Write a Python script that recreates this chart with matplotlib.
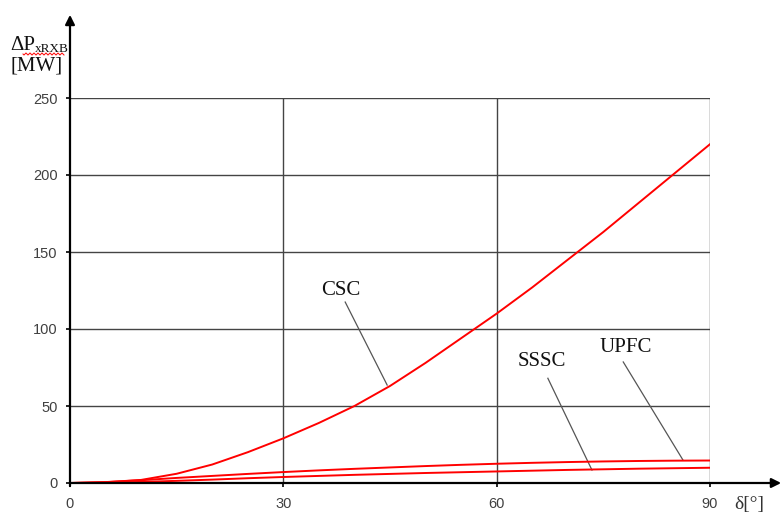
import numpy as np
import matplotlib
matplotlib.use("Agg")
import matplotlib.pyplot as plt

# Power-loss curves vs. transmission angle
delta = [0, 5, 10, 15, 20, 25, 30, 35, 40, 45, 50, 55, 60, 65, 70, 75, 80, 85, 90]
csc = [0, 0.5, 2, 6, 12, 20, 29, 39, 50, 63, 78, 94, 110, 127, 145, 163, 182, 201, 220]
upfc = [0, 0.6, 1.8, 3.3, 4.6, 5.9, 7.1, 8.2, 9.2, 10.1, 11.0, 11.8, 12.5, 13.1, 13.6, 14.0, 14.3, 14.5, 14.6]
sssc = [0, 0.2, 0.7, 1.4, 2.2, 3.1, 3.9, 4.6, 5.3, 5.9, 6.5, 7.0, 7.5, 8.0, 8.5, 8.9, 9.3, 9.6, 9.9]

xticks = [0, 30, 60, 90]
yticks = [0, 50, 100, 150, 200, 250]

serif = "Liberation Serif"
sans = "Liberation Sans"

W, H = 781, 513
fig = plt.figure(figsize=(W / 100, H / 100), dpi=100)
ax = fig.add_axes([70 / W, 30 / H, 640 / W, 385 / H])
ax.set_xlim(0, 90)
ax.set_ylim(0, 250)
for s in ax.spines.values():
    s.set_visible(False)

# grid
for yv in yticks[1:]:
    ax.plot([0, 90], [yv, yv], color="#444444", lw=1.0, zorder=1)
for xv in xticks[1:]:
    ax.plot([xv, xv], [0, 250], color="#444444", lw=1.0, zorder=1)

# curves
for ys in (csc, upfc, sssc):
    ax.plot(delta, ys, color="red", lw=1.4, zorder=3)

# axes with arrows
ax.annotate("", xy=(100, 0), xytext=(0, 0),
            arrowprops=dict(arrowstyle="-|>", color="black", lw=1.6,
                            mutation_scale=14, shrinkA=0, shrinkB=0),
            annotation_clip=False, zorder=4)
ax.annotate("", xy=(0, 304), xytext=(0, -2),
            arrowprops=dict(arrowstyle="-|>", color="black", lw=1.6,
                            mutation_scale=14, shrinkA=0, shrinkB=0),
            annotation_clip=False, zorder=4)

ax.set_xticks(xticks)
ax.set_yticks(yticks)
ax.tick_params(axis="both", direction="out", length=3, width=1.2, color="black",
               labelcolor="#404040", labelsize=10.5)
ax.tick_params(axis="x", pad=7)
ax.tick_params(axis="y", pad=6)
for lab in ax.get_xticklabels() + ax.get_yticklabels():
    lab.set_fontfamily(sans)

# curve labels with leader lines
labels = [("CSC", (38.1, 125), (38.7, 117.5), (44.6, 63.6)),
          ("SSSC", (66.4, 78.6), (67.2, 68), (73.4, 8.4)),
          ("UPFC", (78.2, 88.3), (77.8, 78.6), (86.2, 14.9))]
for txt, tpos, p0, p1 in labels:
    ax.text(tpos[0], tpos[1], txt, family=serif, fontsize=15, ha="center",
            va="center", color="#111111")
    ax.plot([p0[0], p1[0]], [p0[1], p1[1]], color="#555555", lw=0.9, zorder=2)

# axis titles
fig.text(10 / W, 1 - 50 / H, "ΔP", family=serif, fontsize=15,
         ha="left", va="baseline", color="#111111")
fig.text(35 / W, 1 - 52 / H, "xRXB", family=serif, fontsize=9.5,
         ha="left", va="baseline", color="#111111")
fig.text(10 / W, 1 - 70 / H, "[MW]", family=serif, fontsize=15,
         ha="left", va="baseline", color="#111111")
fig.text(749 / W, 1 - 505 / H, "δ[°]", family=serif, fontsize=14,
         ha="center", va="center", color="#333333")

# wavy underline beneath the subscript
wx = np.linspace(23, 64, 60)
wy = 54 + 1.0 * np.sin((wx - 23) * 2 * np.pi / 4.0)
fig.add_artist(plt.Line2D(wx / W, 1 - wy / H, color="red", lw=0.7,
                          transform=fig.transFigure))

fig.savefig("out.png", dpi=100)
